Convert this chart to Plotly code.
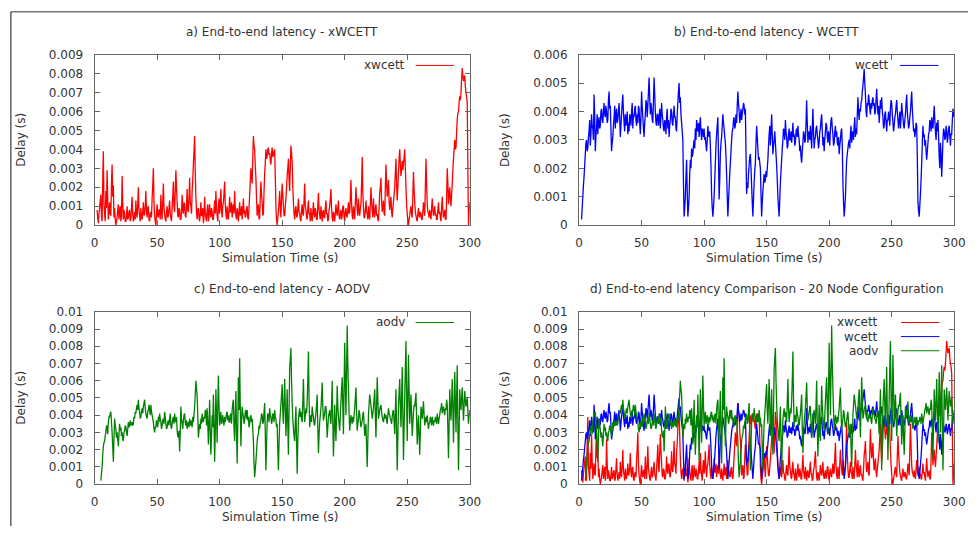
import plotly.graph_objects as go

# ---------------- data (delay in milliseconds, 0.5 s sampling) ----------------
xwcett_start_s = 2
xwcett_delay_ms = [
    0.8, 0.4, 0.1, 0.6, 0.9, 1.3, 1.6, 0.5, 0.2, 2.4, 3.9, 1.1, 0.6, 0.2, 1.8, 0.9, 2.9, 1.4, 0.3, 0.7,
    1.2, 0.6, 0.5, 2.2, 3.2, 1.5, 2.1, 0.4, 0.9, 0.3, 0.0, 0.2, 0.4, 0.8, 1.1, 0.3, 0.7, 1.0, 0.2, 0.5,
    2.6, 1.2, 0.3, 0.8, 0.6, 0.2, 0.2, 0.5, 1.0, 0.3, 0.4, 0.7, 0.8, 0.2, 0.3, 0.9, 1.5, 0.6, 0.2, 0.4,
    0.7, 0.3, 1.3, 0.6, 0.4, 1.1, 2.0, 0.8, 0.5, 0.2, 0.9, 0.4, 0.3, 0.7, 1.2, 0.5, 0.6, 1.0, 1.8, 0.7,
    0.4, 0.9, 1.0, 0.3, 0.2, 0.6, 0.7, 0.4, 1.4, 2.1, 3.0, 1.2, 0.5, 0.2, 0.0, 0.6, 1.1, 0.5, 0.4, 0.8,
    0.8, 0.3, 1.6, 0.7, 0.3, 1.2, 2.2, 0.9, 0.6, 0.3, 0.2, 0.7, 1.0, 0.4, 0.5, 0.9, 1.3, 0.6, 0.4, 0.2,
    0.9, 1.5, 2.3, 1.0, 0.7, 1.8, 2.9, 2.0, 1.2, 0.5, 0.4, 0.9, 0.8, 0.3, 0.3, 0.7, 1.6, 0.8, 0.6, 1.2,
    1.1, 0.5, 0.4, 1.0, 1.9, 0.8, 0.7, 1.4, 2.5, 1.2, 1.0, 0.6, 1.8, 2.4, 3.2, 3.9, 4.7, 2.8, 1.5, 0.7,
    0.3, 0.8, 0.9, 0.4, 0.2, 0.6, 1.2, 0.5, 0.5, 0.9, 0.1, 0.4, 1.5, 0.7, 0.4, 0.2, 0.8, 1.1, 0.2, 0.5,
    1.1, 0.6, 0.4, 0.9, 0.7, 0.3, 0.3, 0.8, 1.3, 0.6, 1.8, 0.9, 0.5, 0.2, 1.0, 1.4, 0.6, 1.1, 1.9, 0.8,
    0.4, 1.0, 1.2, 1.7, 2.3, 1.1, 0.6, 0.3, 1.0, 0.5, 0.3, 0.8, 1.5, 0.7, 0.7, 1.2, 0.4, 0.9, 1.1, 0.6,
    1.8, 0.9, 0.5, 0.3, 0.9, 0.6, 0.2, 0.7, 1.2, 0.5, 0.6, 1.0, 0.3, 0.8, 1.4, 0.6, 0.8, 0.4, 0.5, 0.9,
    1.0, 0.4, 0.3, 0.9, 1.6, 2.3, 3.0, 2.5, 2.2, 3.6, 4.7, 4.2, 4.0, 3.1, 2.5, 1.4, 0.5, 0.8, 1.1, 0.3,
    0.4, 1.5, 2.3, 1.6, 1.2, 0.5, 0.6, 1.8, 2.7, 3.3, 4.0, 3.5, 3.6, 4.0, 4.1, 3.7, 3.8, 3.4, 3.2, 3.8,
    4.1, 3.6, 3.7, 3.9, 4.0, 2.6, 1.0, 0.3, 0.0, 0.4, 0.7, 1.2, 1.8, 0.9, 0.4, 1.4, 2.2, 1.6, 1.0, 0.5,
    0.5, 1.0, 1.4, 2.0, 2.6, 3.0, 3.5, 2.4, 1.8, 3.0, 4.2, 3.8, 3.3, 2.0, 1.2, 0.6, 0.3, 0.8, 1.0, 0.5,
    0.4, 0.9, 1.4, 0.7, 0.6, 0.3, 0.2, 0.8, 1.1, 0.6, 0.5, 1.3, 2.2, 1.0, 0.8, 0.4, 0.3, 0.9, 1.3, 0.6,
    0.6, 0.2, 0.9, 0.5, 0.2, 0.7, 1.2, 0.6, 0.4, 0.9, 0.7, 0.3, 0.3, 1.0, 1.7, 0.8, 0.5, 0.3, 1.0, 0.6,
    0.2, 0.7, 0.8, 0.4, 0.4, 0.9, 1.3, 0.6, 0.6, 0.2, 0.3, 0.8, 1.0, 1.4, 1.9, 0.9, 0.4, 0.2, 0.7, 0.5,
    0.2, 0.6, 1.1, 0.7, 0.5, 0.9, 1.3, 0.5, 0.3, 0.6, 0.8, 0.3, 0.5, 1.0, 1.0, 0.4, 0.2, 0.7, 0.9, 0.5,
    0.4, 0.8, 1.2, 0.6, 0.7, 1.5, 2.4, 1.1, 0.5, 0.3, 1.0, 0.6, 0.3, 1.2, 2.0, 1.3, 0.8, 0.5, 1.4, 0.8,
    0.5, 0.9, 1.1, 2.2, 3.6, 1.7, 0.9, 0.4, 0.4, 0.8, 1.3, 0.7, 0.6, 0.3, 1.0, 0.5, 0.3, 1.1, 2.0, 1.2,
    0.8, 0.4, 1.4, 0.7, 0.4, 0.9, 1.1, 0.5, 0.6, 0.3, 0.2, 0.9, 1.7, 2.0, 2.5, 1.3, 0.7, 1.0, 1.3, 0.6,
    0.5, 2.0, 3.2, 2.2, 1.5, 1.9, 2.4, 1.3, 0.8, 1.2, 1.5, 0.7, 0.4, 0.9, 1.2, 1.6, 2.0, 2.8, 3.5, 2.1,
    1.3, 2.0, 2.8, 3.5, 4.0, 3.2, 2.6, 3.0, 3.4, 2.9, 3.2, 3.6, 4.0, 3.0, 2.0, 1.1, 0.6, 0.2, 0.0, 0.3,
    0.5, 0.8, 1.0, 0.6, 0.4, 1.6, 2.8, 1.9, 1.2, 0.7, 0.5, 0.3, 0.2, 0.6, 0.9, 0.5, 0.4, 0.7, 0.6, 0.3,
    0.3, 0.7, 1.2, 0.8, 0.5, 2.0, 3.5, 2.2, 1.1, 0.7, 0.6, 0.4, 0.8, 0.5, 0.3, 0.9, 1.4, 0.8, 0.5, 0.7,
    1.0, 0.5, 0.6, 0.3, 0.3, 0.8, 1.2, 0.6, 0.7, 0.4, 0.2, 0.9, 1.5, 0.8, 0.4, 0.6, 0.8, 0.3, 0.3, 1.4,
    3.0, 2.2, 1.1, 1.6, 2.0, 1.4, 1.0, 1.6, 2.2, 2.9, 3.5, 4.0, 4.5, 4.0, 4.1, 4.9, 5.6, 5.9, 6.0, 6.5,
    6.8, 6.6, 7.0, 7.7, 8.3, 7.9, 7.6, 7.8, 7.9, 7.3, 7.0, 6.8, 6.4, 3.0, 0.0, 0.6, 1.2,
]

wcett_start_s = 2
wcett_delay_ms = [
    0.2, 0.6, 1.0, 1.4, 1.7, 2.1, 2.5, 2.9, 3.0, 2.6, 2.7, 3.1, 3.3, 3.7, 2.8, 3.2, 3.9, 3.5, 3.4, 3.0,
    4.6, 3.9, 2.6, 3.1, 3.5, 3.9, 3.2, 3.6, 3.8, 3.4, 3.5, 4.0, 4.1, 3.7, 3.6, 4.0, 4.3, 3.9, 3.8, 4.2,
    4.0, 3.6, 3.7, 4.4, 4.7, 4.1, 4.2, 3.4, 2.6, 2.9, 3.1, 3.5, 3.8, 4.2, 3.4, 3.9, 4.1, 3.6, 3.7, 4.0,
    4.3, 3.8, 3.1, 3.5, 3.9, 4.3, 4.6, 4.0, 3.6, 3.3, 3.9, 3.5, 3.7, 4.0, 3.2, 3.6, 3.3, 3.9, 3.8, 3.5,
    4.0, 4.3, 3.4, 3.9, 3.8, 4.1, 4.2, 3.7, 3.5, 3.9, 3.6, 4.2, 4.1, 3.6, 3.2, 3.8, 4.7, 4.2, 3.8, 3.4,
    3.1, 3.6, 3.9, 4.4, 4.3, 3.8, 4.2, 4.7, 5.2, 4.5, 3.9, 4.3, 4.1, 3.7, 3.6, 4.4, 5.2, 4.6, 4.0, 3.6,
    3.5, 3.9, 3.9, 3.5, 3.7, 4.1, 3.4, 3.8, 4.3, 3.9, 3.7, 3.4, 3.3, 3.7, 3.6, 3.2, 3.8, 4.1, 3.4, 3.7,
    3.1, 3.5, 3.7, 4.1, 4.0, 3.6, 3.5, 3.9, 4.2, 3.8, 3.8, 3.4, 3.3, 3.9, 4.3, 4.7, 5.0, 4.3, 4.5, 3.9,
    3.6, 3.3, 3.0, 1.5, 0.3, 0.6, 1.0, 1.7, 2.3, 1.2, 0.3, 0.6, 1.0, 1.8, 2.3, 2.0, 2.7, 2.4, 2.5, 2.8,
    3.0, 2.7, 3.4, 3.0, 3.7, 3.4, 3.3, 3.6, 3.1, 3.5, 3.8, 3.3, 3.0, 3.4, 3.3, 3.1, 3.4, 3.0, 3.1, 2.8,
    2.6, 3.0, 3.5, 3.2, 3.1, 3.3, 2.8, 2.1, 1.1, 0.6, 0.3, 0.6, 1.0, 1.6, 2.2, 2.8, 3.2, 3.5, 3.8, 2.4,
    0.9, 1.6, 2.5, 2.9, 3.1, 3.5, 3.9, 3.6, 3.4, 3.1, 2.9, 2.4, 1.8, 1.0, 0.3, 0.8, 1.3, 1.8, 2.2, 2.6,
    3.0, 3.3, 3.4, 3.7, 3.8, 3.4, 3.5, 3.9, 3.6, 4.2, 4.7, 4.3, 4.0, 3.6, 3.8, 4.1, 3.7, 3.9, 4.1, 4.3,
    4.2, 3.9, 4.1, 2.5, 1.1, 1.5, 1.3, 1.8, 2.1, 2.4, 2.5, 2.0, 1.4, 0.8, 0.3, 0.9, 1.5, 1.9, 2.2, 2.9,
    3.5, 3.1, 2.7, 2.3, 2.4, 2.2, 2.0, 1.1, 0.3, 0.8, 1.2, 1.5, 1.8, 1.5, 1.6, 1.9, 1.7, 2.0, 2.3, 2.8,
    3.2, 3.5, 2.8, 3.3, 3.9, 3.2, 2.5, 2.8, 3.0, 3.3, 2.9, 2.5, 2.1, 1.6, 1.0, 0.6, 0.3, 0.9, 1.5, 1.9,
    2.3, 2.7, 3.0, 3.4, 3.3, 3.0, 3.7, 3.3, 3.1, 2.7, 2.8, 3.2, 3.4, 3.0, 3.0, 3.3, 2.9, 3.2, 3.6, 3.1,
    3.2, 2.8, 2.9, 3.3, 3.4, 3.1, 3.5, 3.2, 3.0, 2.6, 2.8, 2.4, 2.2, 2.6, 2.9, 3.3, 3.2, 2.9, 3.0, 3.6,
    4.4, 3.6, 2.9, 3.2, 3.3, 3.0, 3.5, 3.1, 2.7, 3.4, 4.1, 3.3, 2.7, 3.0, 3.1, 3.4, 3.5, 3.2, 3.0, 2.7,
    2.9, 3.3, 3.4, 3.7, 3.9, 3.3, 2.8, 3.1, 2.6, 3.0, 3.3, 3.6, 3.5, 3.1, 2.9, 3.3, 3.1, 2.8, 3.4, 3.7,
    3.8, 3.4, 3.2, 2.8, 2.9, 3.3, 3.5, 3.1, 3.3, 2.9, 2.8, 3.1, 2.5, 2.8, 3.0, 3.3, 3.4, 2.8, 1.5, 0.8,
    0.3, 0.6, 1.0, 1.7, 2.3, 2.5, 2.7, 2.9, 3.0, 2.7, 3.2, 3.5, 2.9, 3.2, 3.3, 3.0, 3.5, 3.8, 3.1, 3.4,
    3.2, 3.9, 4.5, 4.0, 3.7, 4.1, 4.0, 4.3, 4.4, 4.7, 4.9, 5.2, 5.5, 5.0, 4.6, 4.0, 3.8, 4.3, 4.2, 4.6,
    4.4, 4.1, 3.9, 4.3, 4.1, 4.4, 4.5, 4.2, 4.3, 3.9, 4.0, 4.4, 4.8, 4.3, 3.9, 4.2, 3.6, 4.0, 4.4, 4.1,
    4.5, 4.0, 3.8, 3.4, 3.5, 3.9, 4.0, 3.6, 3.3, 3.7, 3.7, 4.0, 3.8, 3.5, 4.1, 4.4, 4.3, 3.9, 3.6, 3.3,
    3.5, 3.8, 3.9, 4.2, 4.4, 4.0, 3.7, 3.4, 3.7, 4.0, 3.4, 3.8, 4.3, 4.0, 3.8, 3.5, 3.4, 3.7, 3.9, 4.3,
    4.6, 4.0, 3.7, 3.4, 3.5, 3.8, 4.0, 4.4, 4.7, 4.1, 3.7, 3.3, 3.4, 3.1, 3.3, 3.6, 3.5, 2.4, 0.8, 0.5,
    0.3, 0.7, 1.1, 1.6, 2.2, 2.9, 3.5, 3.1, 3.2, 2.8, 3.0, 2.6, 2.3, 2.6, 2.9, 3.2, 3.3, 3.7, 3.6, 3.3,
    3.8, 3.5, 3.4, 3.8, 4.2, 3.7, 3.3, 3.0, 3.6, 3.3, 3.7, 3.1, 2.4, 2.0, 2.9, 2.5, 1.7, 2.3, 3.0, 3.4,
    3.3, 3.0, 3.1, 3.5, 3.3, 2.9, 3.1, 3.4, 3.5, 3.1, 2.8, 3.2, 3.2, 3.7, 4.1, 3.9, 3.8,
]

aodv_start_s = 5
aodv_delay_ms = [
    0.2, 0.6, 1.0, 1.7, 2.2, 2.4, 2.5, 2.8, 3.0, 3.4, 3.3, 2.9, 3.6, 3.9, 3.9, 4.1, 4.2, 3.6, 3.0, 2.2,
    1.3, 2.6, 3.8, 3.4, 3.2, 2.7, 3.0, 2.6, 2.2, 2.9, 3.5, 3.1, 3.3, 2.8, 3.0, 2.6, 2.5, 3.0, 3.1, 3.4,
    3.3, 3.0, 2.8, 3.2, 3.6, 3.3, 3.4, 3.7, 3.4, 3.5, 3.6, 3.4, 3.5, 3.9, 3.8, 4.2, 4.1, 4.4, 4.6, 4.3,
    4.9, 4.4, 4.2, 3.8, 3.9, 4.2, 4.4, 4.1, 4.5, 4.7, 4.9, 4.4, 4.1, 3.9, 3.8, 4.2, 4.3, 4.6, 4.3, 4.0,
    4.6, 4.2, 4.0, 3.8, 3.6, 3.2, 3.0, 3.3, 3.3, 3.7, 3.5, 3.3, 3.9, 3.6, 4.1, 3.8, 3.6, 3.2, 3.4, 3.7,
    3.8, 3.5, 4.2, 3.9, 3.5, 3.2, 3.3, 3.6, 3.7, 3.4, 3.8, 4.1, 3.4, 3.2, 3.5, 3.8, 3.9, 3.5, 4.1, 3.7,
    3.6, 3.9, 3.1, 2.8, 2.7, 3.1, 1.9, 3.0, 4.5, 3.8, 3.5, 3.2, 3.7, 4.0, 4.1, 3.6, 3.4, 3.7, 3.2, 3.5,
    3.6, 3.3, 3.8, 3.5, 3.4, 3.7, 3.3, 3.9, 3.6, 4.0, 4.5, 5.2, 6.0, 5.5, 5.2, 4.0, 2.7, 3.1, 3.5, 3.2,
    3.8, 3.5, 4.1, 3.7, 3.6, 3.9, 3.8, 4.3, 4.2, 3.4, 4.4, 3.6, 2.3, 3.5, 4.9, 3.0, 1.7, 2.8, 4.0, 3.3,
    5.2, 3.5, 1.3, 3.0, 5.5, 4.0, 2.4, 4.4, 6.3, 4.6, 3.4, 3.8, 4.2, 3.5, 3.7, 4.0, 3.6, 3.4, 3.9, 3.6,
    3.8, 4.1, 4.2, 3.7, 4.0, 3.6, 3.6, 4.0, 4.1, 3.5, 4.3, 4.7, 4.9, 3.2, 2.5, 4.1, 5.4, 3.0, 1.2, 3.5,
    6.2, 4.3, 7.3, 4.5, 2.2, 3.6, 4.5, 4.1, 3.9, 3.5, 3.7, 4.2, 4.3, 3.8, 4.3, 3.7, 3.9, 3.3, 3.5, 3.9,
    4.0, 3.6, 3.8, 3.2, 2.5, 1.2, 0.4, 0.9, 1.3, 1.9, 2.5, 2.8, 2.9, 3.4, 3.2, 3.6, 3.7, 4.1, 4.0, 3.5,
    3.6, 4.2, 4.7, 2.9, 0.8, 2.3, 3.6, 4.1, 4.0, 3.6, 4.4, 4.0, 3.9, 3.5, 3.7, 4.1, 4.0, 3.6, 4.3, 3.9,
    3.8, 3.3, 3.5, 2.0, 0.8, 2.4, 3.5, 4.1, 4.6, 5.2, 5.8, 4.2, 3.5, 4.8, 6.1, 4.5, 2.8, 4.0, 5.5, 3.4,
    1.7, 4.2, 6.7, 7.3, 7.9, 6.0, 4.7, 3.8, 3.2, 2.8, 2.5, 3.6, 4.5, 2.5, 0.6, 2.4, 3.7, 4.1, 4.4, 3.9,
    4.2, 3.8, 3.6, 4.8, 6.1, 4.4, 3.6, 4.0, 4.4, 4.1, 4.8, 6.0, 7.7, 5.0, 3.3, 3.8, 4.0, 3.6, 4.5, 4.1,
    3.9, 3.5, 3.4, 3.8, 4.1, 4.6, 5.2, 3.3, 1.8, 2.8, 3.6, 4.0, 4.4, 5.1, 5.9, 4.5, 3.7, 3.9, 4.1, 4.5,
    4.5, 3.6, 2.7, 3.3, 3.9, 4.1, 4.3, 3.8, 3.5, 4.6, 6.0, 3.5, 1.6, 3.0, 4.6, 3.4, 2.5, 4.0, 5.7, 4.5,
    3.9, 3.5, 3.1, 4.0, 4.8, 5.5, 6.2, 4.5, 2.9, 5.5, 8.2, 6.0, 4.0, 6.5, 9.2, 7.0, 5.5, 4.2, 3.1, 3.6,
    4.0, 3.7, 3.5, 3.9, 3.6, 4.0, 4.4, 5.0, 5.6, 4.2, 3.1, 3.5, 3.8, 4.3, 4.1, 3.6, 3.3, 3.5, 3.7, 4.0,
    4.2, 3.5, 2.8, 3.2, 3.5, 2.2, 1.0, 2.5, 4.0, 4.6, 5.2, 4.9, 4.6, 4.2, 3.8, 4.1, 4.4, 5.0, 5.5, 4.0,
    2.7, 4.5, 6.2, 5.0, 3.8, 4.0, 4.3, 4.5, 4.6, 4.2, 3.9, 3.7, 3.6, 3.9, 4.1, 3.8, 4.0, 3.7, 3.5, 4.0,
    4.4, 4.1, 4.0, 3.8, 3.7, 3.5, 3.9, 4.2, 4.3, 3.6, 2.9, 4.2, 5.5, 3.0, 0.8, 2.6, 4.5, 5.3, 6.1, 4.5,
    3.3, 5.0, 6.8, 4.1, 1.4, 3.2, 5.0, 6.8, 8.3, 5.0, 2.5, 5.0, 7.5, 5.4, 3.5, 4.3, 5.2, 4.0, 2.8, 3.5,
    4.2, 4.6, 4.5, 4.9, 5.3, 3.8, 2.3, 3.1, 4.0, 2.9, 1.7, 3.0, 4.5, 4.2, 3.8, 4.3, 4.8, 4.0, 3.4, 3.7,
    3.9, 3.6, 4.0, 3.5, 3.2, 3.5, 3.6, 3.9, 3.7, 3.4, 3.9, 3.6, 3.4, 3.7, 3.6, 3.9, 3.8, 3.5, 4.1, 3.8,
    3.5, 3.8, 4.0, 4.3, 4.4, 4.7, 4.1, 4.4, 4.5, 4.2, 4.0, 4.4, 4.3, 4.9, 4.6, 3.2, 1.5, 3.4, 5.5, 4.4,
    3.7, 4.8, 6.1, 4.3, 2.4, 4.5, 6.5, 4.8, 3.0, 5.0, 6.9, 3.5, 0.8, 3.0, 5.5, 4.7, 4.3, 5.0, 5.6, 4.6,
    3.7, 4.6, 5.4, 4.9, 4.5, 4.8, 5.0, 4.2, 3.5, 3.9, 4.3,
]
sample_step_s = 0.5

panel_titles = [
    "a) End-to-end latency - xWCETT",
    "b) End-to-end latency - WCETT",
    "c) End-to-end latency - AODV",
    "d) End-to-end latency Comparison - 20 Node Configuration",
]
y_max = [0.009, 0.006, 0.01, 0.01]
x_ticks = [0, 50, 100, 150, 200, 250, 300]
series_names = ["xwcett", "wcett", "aodv"]
series_colors = ["#ff0000", "#0000ff", "#008000"]

# ---------------- build ----------------
def secs(start, vals):
    return [start + sample_step_s * i for i in range(len(vals))]

def to_s(vals):
    return [v / 1000.0 for v in vals]

series = {
    "xwcett": (secs(xwcett_start_s, xwcett_delay_ms), to_s(xwcett_delay_ms)),
    "wcett": (secs(wcett_start_s, wcett_delay_ms), to_s(wcett_delay_ms)),
    "aodv": (secs(aodv_start_s, aodv_delay_ms), to_s(aodv_delay_ms)),
}
color_of = dict(zip(series_names, series_colors))

W, H = 979, 533
def px(x):
    return x / W
def py(y):
    return 1 - y / H

# panel plot areas in pixels: (left, right, top, bottom)
areas = [(92, 473, 49, 224), (584, 965, 49, 224), (92, 473, 313, 490), (584, 965, 313, 490)]
panel_series = [["xwcett"], ["wcett"], ["aodv"], ["xwcett", "wcett", "aodv"]]

FONT = "DejaVu Sans"
TXT = "#333333"
AX = "#666666"

fig = go.Figure()
layout = dict(
    width=W, height=H, margin=dict(l=0, r=0, t=0, b=0),
    paper_bgcolor="white", plot_bgcolor="white", showlegend=False,
    font=dict(family=FONT, size=12, color=TXT),
)
annotations = []
shapes = []

for i, (l, r, t, b) in enumerate(areas):
    k = "" if i == 0 else str(i + 1)
    xa, ya = "xaxis" + k, "yaxis" + k
    for name in panel_series[i]:
        xs, ys = series[name]
        fig.add_trace(go.Scatter(x=xs, y=ys, mode="lines", name=name,
                                 line=dict(color=color_of[name], width=1.3, simplify=False),
                                 xaxis="x" + k, yaxis="y" + k))
    common = dict(showline=True, mirror="allticks", linecolor=AX, linewidth=1,
                  ticks="inside", ticklen=5, tickcolor=AX, tickwidth=1,
                  showgrid=False, zeroline=False,
                  tickfont=dict(family=FONT, size=12, color=TXT))
    layout[xa] = dict(domain=[px(l), px(r)], range=[0, 300], tickvals=x_ticks,
                      anchor="y" + k, ticklabelstandoff=6, **common)
    layout[ya] = dict(domain=[py(b), py(t)], range=[0, y_max[i]], dtick=0.001,
                      anchor="x" + k, ticklabelstandoff=8, **common)
    cx = (l + r) / 2
    annotations.append(dict(text=panel_titles[i], x=px(cx), y=py(t - 23), xref="paper", yref="paper",
                            xanchor="center", yanchor="middle", showarrow=False,
                            font=dict(family=FONT, size=12, color=TXT)))
    annotations.append(dict(text="Simulation Time (s)", x=px(cx - 2), y=py(b + 34), xref="paper", yref="paper",
                            xanchor="center", yanchor="middle", showarrow=False,
                            font=dict(family=FONT, size=12, color=TXT)))
    annotations.append(dict(text="Delay (s)", x=px(l - 75), y=py((t + b) / 2), xref="paper", yref="paper",
                            xanchor="center", yanchor="middle", showarrow=False, textangle=-90,
                            font=dict(family=FONT, size=12, color=TXT)))
    # gnuplot-style key: label on the left, line sample on the right
    for j, name in enumerate(panel_series[i]):
        ky = t + 11 + j * 14.5
        annotations.append(dict(text=name, x=px(r - 64 if i != 3 else r - 75), y=py(ky), xref="paper", yref="paper",
                                xanchor="right", yanchor="middle", showarrow=False,
                                font=dict(family=FONT, size=12, color=TXT)))
        x0 = r - 55 if i != 3 else r - 54
        shapes.append(dict(type="line", xref="paper", yref="paper", x0=px(x0), x1=px(x0 + 39),
                           y0=py(ky), y1=py(ky), line=dict(color=color_of[name], width=1)))

# outer frame lines of the picture
shapes.append(dict(type="line", xref="paper", yref="paper", x0=px(7), x1=1, y0=py(5), y1=py(5),
                   line=dict(color="#777777", width=1.5)))
shapes.append(dict(type="line", xref="paper", yref="paper", x0=px(7), x1=px(7), y0=py(5), y1=0,
                   line=dict(color="#111111", width=1)))

layout["annotations"] = annotations
layout["shapes"] = shapes
fig.update_layout(**layout)
fig.write_html("out.html", config={"displayModeBar": False},
               post_script="document.body.style.margin='0';document.body.style.overflow='hidden';")
